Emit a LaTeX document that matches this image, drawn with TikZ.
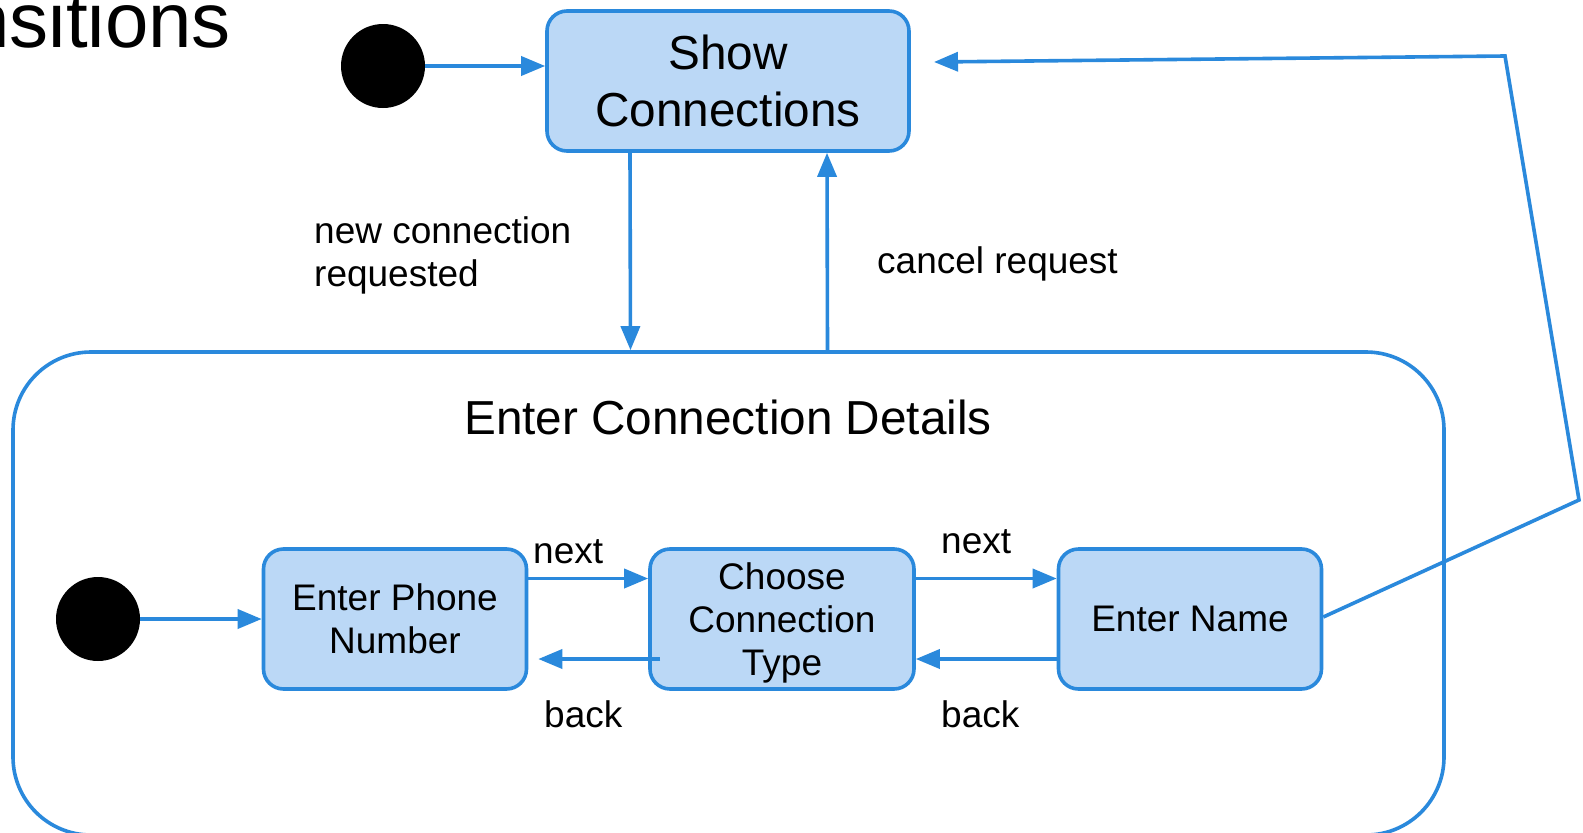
\documentclass[tikz,border=0pt]{standalone}
\usepackage{fontspec}
\setmainfont{Liberation Sans}
\usetikzlibrary{arrows.meta}
\definecolor{lineblue}{RGB}{42,137,220}
\definecolor{fillblue}{RGB}{187,216,246}
\begin{document}
\begin{tikzpicture}[x=1pt,y=-1pt,
  state/.style={draw=lineblue, fill=fillblue, line width=3.6pt, rounded corners=20pt, inner sep=0pt,
    font=\fontsize{37}{43.4}\selectfont, align=center},
  startdot/.style={circle, fill=black, minimum size=84pt, inner sep=0pt},
  trans/.style={draw=lineblue, line width=3.6pt, -{Triangle[length=24pt,width=19pt]}},
  lbl/.style={font=\fontsize{37}{43.4}\selectfont, anchor=base west, inner sep=0pt, align=left},
  bigtext/.style={font=\fontsize{47.7}{57}\selectfont, inner sep=0pt}]
\useasboundingbox (0,0) rectangle (1583,833);
\clip (0,0) rectangle (1583,833);
\fill[white] (0,0) rectangle (1583,833);

% title (cut off at the left edge)
\node[font=\fontsize{78}{90}\selectfont, anchor=base east, inner sep=0pt] (title) at (231,47) {Transitions};

% top level
\node[startdot] (i1) at (383,66) {};
\node[state, minimum width=362pt, minimum height=140pt, font=\fontsize{47.7}{57}\selectfont] (show) at (728,81) {Show\\Connections};

% composite state
\node[draw=lineblue, line width=3.6pt, rounded corners=78pt, minimum width=1431pt, minimum height=483pt, inner sep=0pt] (outer) at (728.5,593.5) {};
\node[bigtext, anchor=base] (dtitle) at (728,434) {Enter Connection Details};

% inner states
\node[startdot] (i2) at (98,619) {};
\node[state, minimum width=263pt, minimum height=140pt] (phone) at (395,619) {Enter Phone\\Number};
\node[state, minimum width=264pt, minimum height=140pt, text depth=0pt] (choose) at (782,619) {Choose\\Connection\\Type};
\node[state, minimum width=263pt, minimum height=140pt] (name) at (1190,619) {Enter Name};

% transitions
\draw[trans] (i1.east) -- (i1.east -| show.west);
\draw[trans] ([xshift=-98pt]show.south) -- ([xshift=-98pt]outer.north);
\draw[trans] ([xshift=99pt]outer.north) -- ([xshift=99pt]show.south);

\draw[trans] (i2) -- (phone);
\draw[trans] ([yshift=40.5pt]phone.east) -- ([yshift=40.5pt]choose.west);
\draw[trans] ([yshift=40.5pt]choose.east) -- ([yshift=40.5pt]name.west);
\draw[trans] ([xshift=12pt,yshift=-40pt]choose.west) -- ([xshift=10pt,yshift=-40pt]phone.east);
\draw[trans] ([yshift=-40pt]name.west) -- ([yshift=-40pt]choose.east);

\coordinate (c1) at (1579,500);
\coordinate (c2) at (1505,56);
\coordinate (cend) at (934,62);
\draw[trans] ([yshift=2pt]name.east) -- (c1) -- (c2) -- (cend);

% labels
\node[lbl] (lnew) at (314,286.4) {new connection\\requested};
\node[lbl] (lcancel) at (877,273.6) {cancel request};
\node[lbl] (lnext1) at (533,563) {next};
\node[lbl] (lnext2) at (941,553) {next};
\node[lbl] (lback1) at (544,727) {back};
\node[lbl] (lback2) at (941,727) {back};
\end{tikzpicture}
\end{document}
